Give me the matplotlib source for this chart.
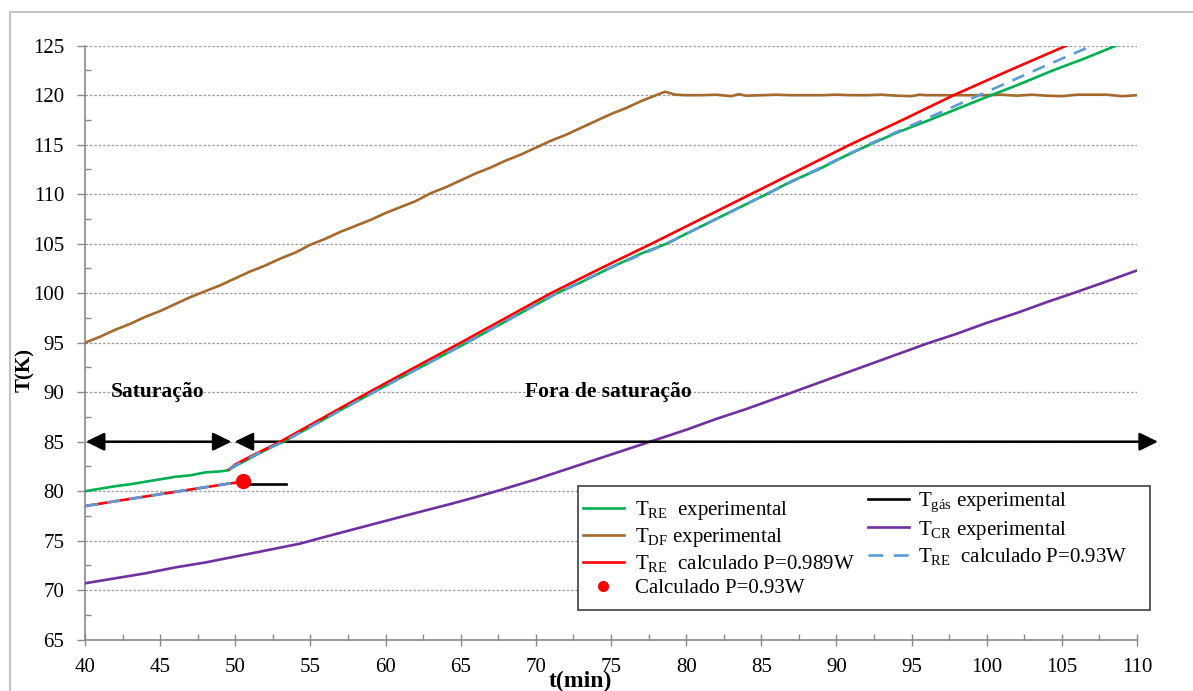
import matplotlib
matplotlib.use('Agg')
import matplotlib.pyplot as plt
from matplotlib.lines import Line2D
from matplotlib.patches import Rectangle

plt.rcParams['font.family'] = ['Liberation Serif', 'DejaVu Serif']
plt.rcParams['mathtext.fontset'] = 'custom'
plt.rcParams['mathtext.rm'] = 'Liberation Serif'
plt.rcParams['mathtext.it'] = 'Liberation Serif:italic'
plt.rcParams['mathtext.bf'] = 'Liberation Serif:bold'

# T_DF experimental (brown)
t_df = [40, 41, 42, 43, 44, 45, 46, 47, 48, 49, 50, 51, 52, 53, 54, 55, 56, 57, 58, 59,
        60, 61, 62, 63, 64, 65, 66, 67, 68, 69, 70, 71, 72, 73, 74, 75, 76, 77, 78, 78.6,
        79.3, 80, 81, 82, 83, 83.5, 84, 85, 86, 87, 88, 89, 90, 91, 92, 93, 94, 95, 95.5,
        96, 97, 98, 99, 100, 101, 102, 103, 104, 105, 106, 107, 108, 109, 110]
T_df = [95.0, 95.6, 96.3, 96.9, 97.6, 98.2, 98.9, 99.6, 100.2, 100.8, 101.5, 102.2, 102.8,
        103.5, 104.1, 104.9, 105.5, 106.2, 106.8, 107.4, 108.1, 108.7, 109.3, 110.1, 110.7,
        111.4, 112.1, 112.7, 113.4, 114.0, 114.7, 115.4, 116.0, 116.7, 117.4, 118.1, 118.7,
        119.4, 120.0, 120.35, 120.05, 120.0, 120.0, 120.05, 119.9, 120.1, 119.95, 120.0,
        120.05, 120.0, 120.0, 120.0, 120.05, 120.0, 120.0, 120.05, 119.95, 119.9, 120.05,
        120.0, 120.0, 120.0, 120.0, 120.0, 120.05, 119.95, 120.05, 119.95, 119.9, 120.05,
        120.05, 120.05, 119.9, 120.0]

# T_RE experimental (green)
t_re = [40, 41, 42, 43, 44, 45, 46, 47, 48, 49, 49.5, 50, 51, 52, 53.2, 55, 57, 59.2, 62.3,
        65.4, 68.4, 71.4, 73, 75, 77, 78.7, 80, 82, 84, 85.35, 87, 88.8, 90.5, 92.2, 94,
        96.2, 98, 100.3, 102, 104.4, 106.5, 108.6]
T_re = [80.0, 80.25, 80.5, 80.7, 80.95, 81.2, 81.45, 81.6, 81.9, 82.0, 82.1, 82.55, 83.35,
        84.15, 85.0, 86.5, 88.2, 90.0, 92.5, 95.0, 97.5, 100.0, 101.1, 102.6, 104.0, 105.0,
        106.0, 107.5, 109.0, 110.0, 111.3, 112.5, 113.8, 115.0, 116.2, 117.5, 118.6, 120.0,
        121.0, 122.5, 123.7, 125.0]

# T_RE calculado P=0.989W (red): saturation segment and out-of-saturation segment
t_red_sat = [40, 45, 49.5, 50.5]
T_red_sat = [78.5, 79.7, 80.75, 80.95]
t_red = [49.6, 50, 51, 52, 53, 55, 58.9, 62, 65, 68, 71, 74.3, 77.7, 81, 84.3, 87.6, 90.9,
         94.4, 97.8, 101.5, 105.3]
T_red = [82.2, 82.7, 83.5, 84.25, 85.0, 86.7, 90.0, 92.55, 95.0, 97.5, 100.0, 102.5, 105.0,
         107.5, 110.0, 112.5, 115.0, 117.5, 120.0, 122.5, 125.0]

# T_RE calculado P=0.93W (blue dashed)
t_blue_sat = [40, 45, 49.5, 50.5]
T_blue_sat = [78.5, 79.7, 80.75, 80.95]
t_blue = [49.6, 50, 51, 52, 53.2, 55, 59.2, 62.3, 65.4, 68.4, 71.4, 75, 78.7, 82, 85.35,
          88.7, 92.1, 95.8, 99.5, 103.2, 107.0]
T_blue = [82.2, 82.6, 83.4, 84.2, 85.0, 86.5, 90.0, 92.5, 95.0, 97.5, 100.0, 102.6, 105.0,
          107.5, 110.0, 112.5, 115.0, 117.5, 120.0, 122.5, 125.0]

# T_CR experimental (purple)
t_cr = [40, 42, 44, 46, 48, 50, 52, 54.3, 56, 58, 60, 62, 64.3, 66, 67.6, 70, 72, 74, 76,
        77.6, 80, 82, 84, 86.2, 88, 90, 92, 94, 96, 98, 100, 102, 104, 105.75, 108, 110]
T_cr = [70.7, 71.2, 71.7, 72.3, 72.8, 73.4, 74.0, 74.7, 75.4, 76.2, 77.0, 77.8, 78.7, 79.4,
        80.1, 81.2, 82.2, 83.2, 84.2, 85.0, 86.2, 87.3, 88.3, 89.5, 90.5, 91.6, 92.7, 93.8,
        94.9, 95.9, 97.0, 98.0, 99.1, 100.0, 101.2, 102.3]

# T_gas experimental (black) and calculated point
t_gas = [50.6, 53.4]
T_gas = [80.7, 80.7]
t_dot = [50.5]
T_dot = [81.0]

W, H = 1193, 691
fig = plt.figure(figsize=(W / 100, H / 100), dpi=100)
ax = fig.add_axes([85 / W, 1 - 639.7 / H, 1052 / W, 594 / H])

lw = 1.9
dash = (5.0, 3.5)
ax.plot(t_df, T_df, color='#a5692c', lw=lw, zorder=3)
ax.plot(t_cr, T_cr, color='#7030a0', lw=lw, zorder=3)
ax.plot(t_re, T_re, color='#00b050', lw=lw, zorder=4)
ax.plot(t_red_sat, T_red_sat, color='#ff0000', lw=lw, zorder=5)
ax.plot(t_red, T_red, color='#ff0000', lw=lw, zorder=5)
ax.plot(t_blue_sat, T_blue_sat, color='#5b9bd5', lw=lw, dashes=dash, zorder=6)
ax.plot(t_blue, T_blue, color='#5b9bd5', lw=lw, dashes=dash, zorder=6)
ax.plot(t_gas, T_gas, color='black', lw=lw, zorder=6)
ax.plot(t_dot, T_dot, 'o', color='#ff0000', ms=10, zorder=7)

ax.set_xlim(40, 110)
ax.set_ylim(65, 125)
ax.set_xticks(range(40, 111, 5))
ax.set_yticks(range(65, 126, 5))
ax.set_xticks([x + 2.5 for x in range(40, 110, 5)], minor=True)
ax.set_yticks([y + 2.5 for y in range(65, 125, 5)], minor=True)
ax.yaxis.grid(True, which='major', color='#9a9a9a', ls=(0, (2, 1.5)), lw=0.9)
ax.set_axisbelow(True)

gray = '#8a8a8a'
for s in ['top', 'right']:
    ax.spines[s].set_visible(False)
for s in ['left', 'bottom']:
    ax.spines[s].set_color(gray)
    ax.spines[s].set_linewidth(1.2)
ax.tick_params(axis='y', which='major', direction='out', length=6, width=1, color=gray,
               pad=9, labelsize=15)
ax.tick_params(axis='y', which='minor', direction='in', length=4, width=1, color=gray)
ax.tick_params(axis='x', which='major', direction='inout', length=9, width=1, color=gray,
               pad=9, labelsize=15)
ax.tick_params(axis='x', which='minor', direction='in', length=4, width=1, color=gray)

# saturation arrows
arrow = dict(arrowstyle='<|-|>,head_length=0.45,head_width=0.22', color='black', lw=1.8,
             mutation_scale=25, shrinkA=0, shrinkB=0)
ax.annotate('', xy=(40.05, 85), xytext=(49.75, 85), arrowprops=arrow, annotation_clip=False)
ax.annotate('', xy=(49.95, 85), xytext=(111.4, 85), arrowprops=arrow, annotation_clip=False)
ax.text(44.8, 90, 'Saturação', fontsize=15.5, fontweight='bold', ha='center', va='center')
ax.text(74.8, 90, 'Fora de saturação', fontsize=15.5, fontweight='bold', ha='center',
        va='center')

fig.text(25 / W, 1 - 370 / H, 'T(K)', fontsize=15, fontweight='bold', rotation=90,
         ha='center', va='center')
fig.text(580 / W, 1 - 681 / H, 't(min)', fontsize=17, fontweight='bold', ha='center',
         va='center')

# legend: frame + two columns
fig.add_artist(Rectangle((578 / W, 1 - 610 / H), (1150 - 578) / W, (610 - 486) / H,
                         transform=fig.transFigure, fill=True, facecolor='white',
                         edgecolor='#404040', lw=1.2, zorder=8))
h1 = [Line2D([], [], color='#00b050', lw=lw),
      Line2D([], [], color='#a5692c', lw=lw),
      Line2D([], [], color='#ff0000', lw=lw),
      Line2D([], [], marker='o', ls='none', color='#ff0000', ms=7)]
l1 = ['T$_{\\mathrm{RE}}$  experimental', 'T$_{\\mathrm{DF}}$ experimental',
      'T$_{\\mathrm{RE}}$  calculado P=0.989W', 'Calculado P=0.93W']
h2 = [Line2D([], [], color='black', lw=lw),
      Line2D([], [], color='#7030a0', lw=lw),
      Line2D([], [], color='#5b9bd5', lw=lw, dashes=(5.6, 4.0))]
l2 = ['T$_{\\mathrm{gás}}$ experimental', 'T$_{\\mathrm{CR}}$ experimental',
      'T$_{\\mathrm{RE}}$  calculado P=0.93W']
leg1 = fig.legend(h1, l1, loc='upper left', bbox_to_anchor=(583 / W, 1 - 499 / H),
                  frameon=False, fontsize=15, handlelength=1.95, handletextpad=0.55,
                  labelspacing=0.2, borderpad=0, borderaxespad=0)
leg2 = fig.legend(h2, l2, loc='upper left', bbox_to_anchor=(868 / W, 1 - 491 / H),
                  frameon=False, fontsize=15, handlelength=1.95, handletextpad=0.45,
                  labelspacing=0.2, borderpad=0, borderaxespad=0)
leg1.set_zorder(9)
leg2.set_zorder(9)

# outer frame of the picture
fig.add_artist(Line2D([10 / W, 1.0], [1 - 12 / H, 1 - 12 / H], transform=fig.transFigure,
                      color='#c4c4c4', lw=1.5))
fig.add_artist(Line2D([10 / W, 10 / W], [1 - 12 / H, 0], transform=fig.transFigure,
                      color='#c4c4c4', lw=1.5))

fig.savefig('out.png', dpi=100)
